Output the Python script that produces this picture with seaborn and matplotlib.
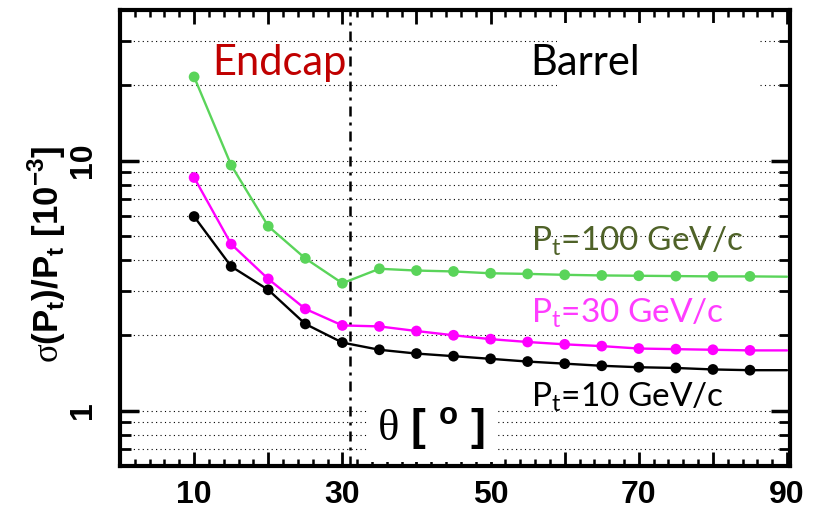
import numpy as np
import pandas as pd
import matplotlib
matplotlib.use("Agg")
import matplotlib.pyplot as plt
import matplotlib.ticker as mticker
from matplotlib.patches import Rectangle
import seaborn as sns

# ---------------- data ----------------
theta = [10, 15, 20, 25, 30, 35, 40, 45, 50, 55, 60, 65, 70, 75, 80, 85, 90]
res_100 = [21.6, 9.58, 5.46, 4.06, 3.23, 3.69, 3.63, 3.60, 3.54, 3.52, 3.49, 3.47, 3.46, 3.45, 3.44, 3.44, 3.43]
res_30 = [8.55, 4.63, 3.36, 2.55, 2.19, 2.17, 2.08, 2.00, 1.93, 1.88, 1.84, 1.81, 1.77, 1.76, 1.75, 1.74, 1.74]
res_10 = [5.97, 3.77, 3.04, 2.22, 1.87, 1.75, 1.69, 1.65, 1.61, 1.57, 1.54, 1.51, 1.49, 1.48, 1.46, 1.45, 1.45]
series_names = ["100", "30", "10"]
line_colors = ["#5ad45a", "#ff00ff", "#000000"]
label_colors = ["#4f6228", "#ff3cff", "#000000"]
label_texts = ["P$_\\mathsf{t}$=100 GeV/c", "P$_\\mathsf{t}$=30 GeV/c", "P$_\\mathsf{t}$=10 GeV/c"]
label_y = [4.37, 2.26, 1.035]
xtick_major = [0, 10, 20, 30, 40, 50, 60, 70, 80, 90]
xtick_labels = ["", "10", "", "30", "", "50", "", "70", "", "90"]
boundary_theta = 31

df = pd.DataFrame({
    "theta": theta * 3,
    "res": res_100 + res_30 + res_10,
    "pt": [n for n in series_names for _ in theta],
})
df_pts = df[df["theta"] < 90]

# ---------------- style ----------------
sns.set_theme(style="ticks")
plt.rcParams["font.family"] = ["Liberation Sans", "DejaVu Sans"]
plt.rcParams["text.color"] = "black"
plt.rcParams["axes.labelcolor"] = "black"
plt.rcParams["xtick.color"] = "black"
plt.rcParams["ytick.color"] = "black"
plt.rcParams["mathtext.fontset"] = "custom"
plt.rcParams["mathtext.rm"] = "Liberation Serif"
plt.rcParams["mathtext.bf"] = "Liberation Sans:bold"
plt.rcParams["mathtext.sf"] = "Lato"

fig = plt.figure(figsize=(8.35, 5.12), dpi=100)
ax = fig.add_axes([120 / 835, 1 - 466 / 512, 670 / 835, 456 / 512])

palette = dict(zip(series_names, line_colors))
sns.lineplot(data=df, x="theta", y="res", hue="pt", palette=palette,
             hue_order=series_names, errorbar=None, lw=1.7, legend=False,
             ax=ax, zorder=3)
sns.scatterplot(data=df_pts, x="theta", y="res", hue="pt", palette=palette,
                hue_order=series_names, s=60, edgecolor="none", legend=False,
                ax=ax, zorder=4)

ax.set_yscale("log")
ax.set_xlim(0, 90.4)
ax.set_ylim(0.6, 40)

# axes / ticks
for sp in ax.spines.values():
    sp.set_linewidth(3)
    sp.set_color("black")
    sp.set_visible(True)

ax.xaxis.set_major_locator(mticker.FixedLocator(xtick_major))
ax.xaxis.set_major_formatter(mticker.FixedFormatter(xtick_labels))
ax.xaxis.set_minor_locator(mticker.MultipleLocator(2))
ax.yaxis.set_major_locator(mticker.FixedLocator([1, 10]))
ax.yaxis.set_major_formatter(mticker.FixedFormatter(["1", "10"]))
ax.yaxis.set_minor_locator(mticker.LogLocator(base=10, subs=np.arange(2, 10)))
ax.yaxis.set_minor_formatter(mticker.NullFormatter())

ax.tick_params(axis="x", which="major", direction="in", length=10, width=2,
               top=True, bottom=True, labelsize=23, pad=10, colors="black")
ax.tick_params(axis="x", which="minor", direction="in", length=5, width=1.8,
               top=True, bottom=True, colors="black")
ax.tick_params(axis="y", which="major", direction="in", length=14, width=2.5,
               left=True, right=True, labelsize=23, pad=16, colors="black")
ax.tick_params(axis="y", which="minor", direction="in", length=8, width=2,
               left=True, right=True, colors="black")
for lab in ax.get_xticklabels() + ax.get_yticklabels():
    lab.set_fontweight("bold")
    lab.set_color("black")
for lab in ax.get_yticklabels():
    lab.set_rotation(90)
    lab.set_va("center")

ax.grid(False)
ax.grid(True, which="both", axis="y", color="black", lw=0.8,
        linestyle=(0, (1, 3)))
ax.set_axisbelow(True)

ax.set_xlabel("")
ax.set_ylabel(r"$\mathrm{\sigma}$(P$_\mathbf{t}$)/P$_\mathbf{t}$ [10$^\mathbf{-3}$]",
              fontsize=25, fontweight="bold", va="center", color="black")
ax.yaxis.set_label_coords(-0.109, 0.465)

# boundary endcap / barrel
ax.axvline(boundary_theta, color="black", lw=1.8,
           linestyle=(0, (4, 2.4, 1.2, 2.4)), zorder=2)

# white box behind "Barrel" area
ax.add_patch(Rectangle((59, 16.5), 27.4, 19, facecolor="white",
                       edgecolor="none", zorder=1))

ax.text(12.4, 21.9, "Endcap", color="#c00000", fontsize=30,
        family=["Lato", "DejaVu Sans"], ha="left", va="baseline", zorder=5)
ax.text(55.3, 21.9, "Barrel", color="black", fontsize=30,
        family=["Lato", "DejaVu Sans"], ha="left", va="baseline", zorder=5)

for txt, c, yy in zip(label_texts, label_colors, label_y):
    ax.text(55.5, yy, txt, color=c, fontsize=24,
            family=["Lato", "DejaVu Sans"], ha="left", va="baseline", zorder=5)

ax.text(34.7, 0.757, r"$\mathrm{\theta}$ [ $^\mathbf{o}$ ]", fontsize=32,
        fontweight="bold", ha="left", va="baseline", zorder=5,
        bbox=dict(facecolor="white", edgecolor="none", pad=7))

fig.savefig("out.png", dpi=100)
